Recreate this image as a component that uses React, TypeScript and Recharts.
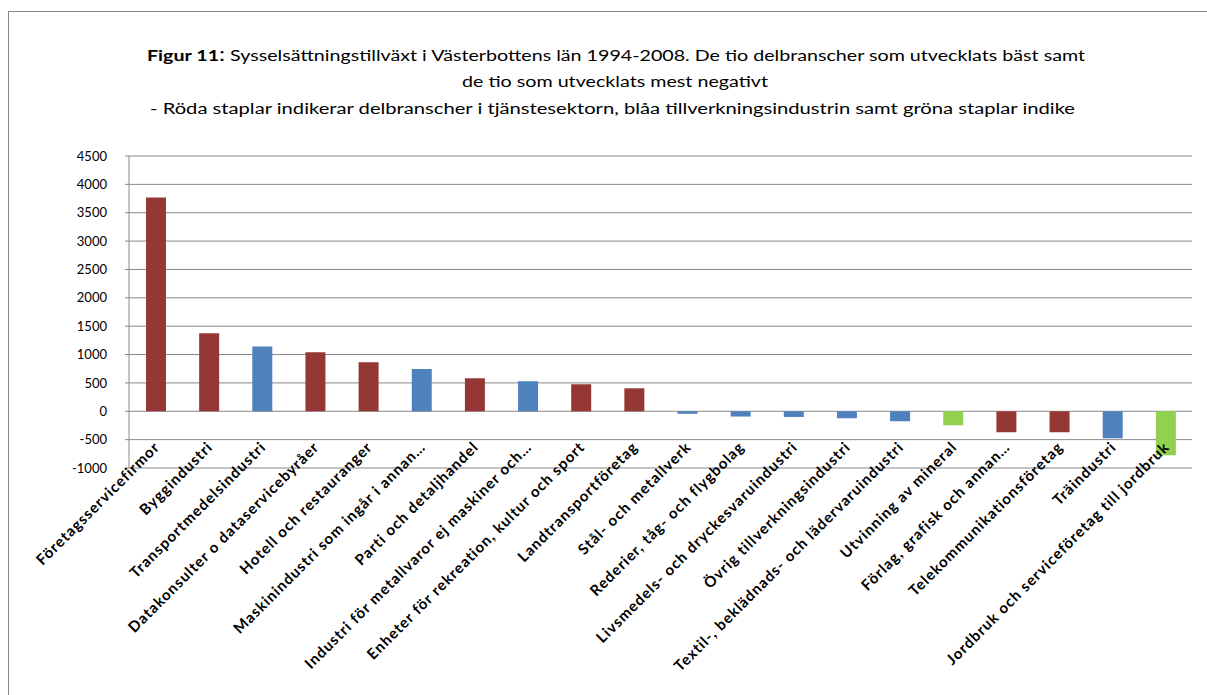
import { BarChart, Bar, XAxis, YAxis, CartesianGrid, Cell } from "recharts";

const categories = [
  "Företagsservicefirmor",
  "Byggindustri",
  "Transportmedelsindustri",
  "Datakonsulter o dataservicebyråer",
  "Hotell och restauranger",
  "Maskinindustri som ingår i annan…",
  "Parti och detaljhandel",
  "Industri för metallvaror ej maskiner och…",
  "Enheter för rekreation, kultur och sport",
  "Landtransportföretag",
  "Stål- och metallverk",
  "Rederier, tåg- och flygbolag",
  "Livsmedels- och dryckesvaruindustri",
  "Övrig tillverkningsindustri",
  "Textil-, beklädnads- och lädervaruindustri",
  "Utvinning av mineral",
  "Förlag, grafisk och annan…",
  "Telekommunikationsföretag",
  "Träindustri",
  "Jordbruk och serviceföretag till jordbruk",
];

const values = [
  3770, 1375, 1140, 1040, 865, 745, 582, 529, 476, 405,
  -45, -93, -100, -123, -176, -247, -370, -370, -476, -775,
];

// s = tjänstesektorn, t = tillverkningsindustrin, g = övrigt
const sectors = [
  "s", "s", "t", "s", "s", "t", "s", "t", "s", "s",
  "t", "t", "t", "t", "t", "g", "s", "s", "t", "g",
];

const yTicks = [-1000, -500, 0, 500, 1000, 1500, 2000, 2500, 3000, 3500, 4000, 4500];

const sectorColor: Record<string, string> = {
  s: "#953735",
  t: "#4F81BD",
  g: "#92D050",
};

const data = categories.map((name, i) => ({ name, value: values[i], sector: sectors[i] }));

const FONT = "Lato, 'Open Sans', sans-serif";

function CategoryTick(props: any) {
  const { x, y, payload } = props;
  return (
    <g transform={`translate(${x + 5},${y - 28})`}>
      <text
        textAnchor="end"
        transform="rotate(-45)"
        fontFamily={FONT}
        fontWeight="bold"
        fontSize={15}
        letterSpacing={1}
        fill="#000"
      >
        {payload.value}
      </text>
    </g>
  );
}

export default function App() {
  return (
    <div style={{ position: "absolute", left: 0, top: 0, width: 1207, height: 695, background: "#fff", overflow: "hidden" }}>
      <div
        style={{
          position: "absolute",
          left: 8,
          top: 11,
          width: 1220,
          height: 700,
          border: "1px solid #888",
          boxSizing: "border-box",
        }}
      />
      <svg width={1207} height={130} style={{ position: "absolute", left: 0, top: 0 }}>
        <text
          x={147}
          y={61}
          fontFamily={FONT}
          fontSize={15.5}
          textLength={938}
          lengthAdjust="spacingAndGlyphs"
        >
          <tspan fontWeight="bold">Figur 11</tspan>
          <tspan fontSize={19}>:</tspan>
          <tspan> Sysselsättningstillväxt i Västerbottens län 1994-2008. De tio delbranscher som utvecklats bäst samt</tspan>
        </text>
        <text
          x={462}
          y={87}
          fontFamily={FONT}
          fontSize={15.5}
          textLength={306}
          lengthAdjust="spacingAndGlyphs"
        >
          de tio som utvecklats mest negativt
        </text>
        <text
          x={150}
          y={114}
          fontFamily={FONT}
          fontSize={15.5}
          textLength={925}
          lengthAdjust="spacingAndGlyphs"
        >
          - Röda staplar indikerar delbranscher i tjänstesektorn, blåa tillverkningsindustrin samt gröna  staplar indike
        </text>
      </svg>
      <div style={{ position: "absolute", left: 0, top: 0 }}>
        <BarChart
          width={1207}
          height={695}
          data={data}
          margin={{ top: 156, right: 15, bottom: 27, left: 69 }}
          barSize={20}
        >
          <CartesianGrid vertical={false} stroke="#888" strokeWidth={1} />
          <XAxis
            dataKey="name"
            interval={0}
            height={200}
            axisLine={false}
            tickLine={false}
            tick={<CategoryTick />}
          />
          <YAxis
            width={60}
            domain={[-1000, 4500]}
            ticks={yTicks}
            interval={0}
            stroke="#888"
            tickSize={4}
            tickMargin={18}
            tick={{ fill: "#000", fontSize: 13, fontFamily: FONT }}
          />
          <Bar dataKey="value" isAnimationActive={false}>
            {data.map((d, i) => (
              <Cell key={i} fill={sectorColor[d.sector]} />
            ))}
          </Bar>
        </BarChart>
      </div>
    </div>
  );
}
